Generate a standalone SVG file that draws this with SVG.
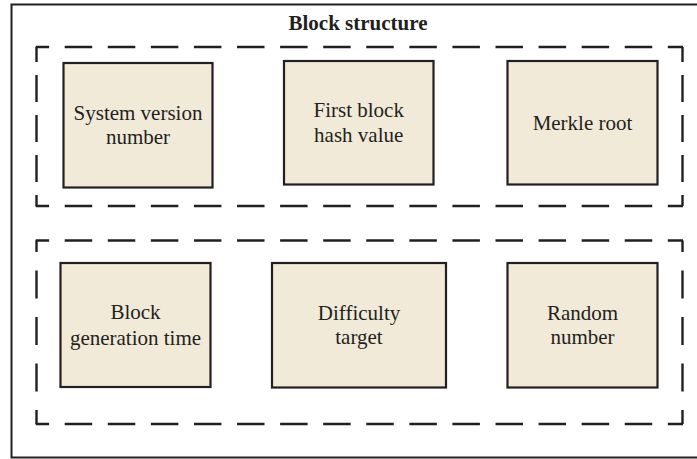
<svg xmlns="http://www.w3.org/2000/svg" width="697" height="459" viewBox="0 0 697 459">
  <style>
    .frame { fill: none; stroke: #231f20; stroke-width: 2; }
    .dashh { fill: none; stroke: #231f20; stroke-width: 2.4; stroke-dasharray: 27.5 15.58; stroke-dashoffset: 14.08; }
    .dashv1 { fill: none; stroke: #231f20; stroke-width: 2.4; stroke-dasharray: 27 13; stroke-dashoffset: 12; }
    .dashv2 { fill: none; stroke: #231f20; stroke-width: 2.4; stroke-dasharray: 28 18.5; stroke-dashoffset: 16.5; }
    .box { fill: #f2ead8; stroke: #231f20; stroke-width: 2.2; }
    .label { font-family: "Liberation Serif", "Times New Roman", serif; font-size: 21px; fill: #231f20; text-anchor: middle; }
    .title { font-family: "Liberation Serif", "Times New Roman", serif; font-size: 21px; font-weight: bold; fill: #231f20; text-anchor: middle; }
  </style>

  <rect width="697" height="459" fill="#ffffff"/>

  <!-- outer frame, open past the right edge -->
  <g id="frame">
    <path class="frame" d="M705,4.5 H11.5 V457.5 H705"/>
    <text class="title" x="358" y="30">Block structure</text>
  </g>

  <!-- dashed groupings -->
  <g id="connectors">
    <g id="group-top">
      <path class="dashh" d="M35.7,47 H683"/>
      <path class="dashh" d="M35.7,206 H683"/>
      <path class="dashv1" d="M36.5,47 V206"/>
      <path class="dashv1" d="M682.5,47 V206"/>
    </g>
    <g id="group-bottom">
      <path class="dashh" d="M35.7,240.5 H683"/>
      <path class="dashh" d="M35.7,424 H683"/>
      <path class="dashv2" d="M36.5,240.5 V424"/>
      <path class="dashv2" d="M682.5,240.5 V424"/>
    </g>
  </g>

  <g id="system-version">
    <rect class="box" x="63.5" y="63" width="149" height="124.5"/>
    <text class="label" x="138" y="119.5">System version</text>
    <text class="label" x="138" y="144">number</text>
  </g>

  <g id="first-block-hash">
    <rect class="box" x="284" y="61" width="149.5" height="123.5"/>
    <text class="label" x="358.7" y="117">First block</text>
    <text class="label" x="358.7" y="142">hash value</text>
  </g>

  <g id="merkle-root">
    <rect class="box" x="507.5" y="61" width="150" height="123.5"/>
    <text class="label" x="582.5" y="129.5">Merkle root</text>
  </g>

  <g id="block-generation-time">
    <rect class="box" x="60.5" y="263" width="150" height="124"/>
    <text class="label" x="135.5" y="319">Block</text>
    <text class="label" x="135.5" y="345">generation time</text>
  </g>

  <g id="difficulty-target">
    <rect class="box" x="272" y="263" width="174" height="124.5"/>
    <text class="label" x="359" y="320">Difficulty</text>
    <text class="label" x="359" y="344">target</text>
  </g>

  <g id="random-number">
    <rect class="box" x="507.5" y="263" width="150" height="124.5"/>
    <text class="label" x="582.5" y="320">Random</text>
    <text class="label" x="582.5" y="344">number</text>
  </g>
</svg>
